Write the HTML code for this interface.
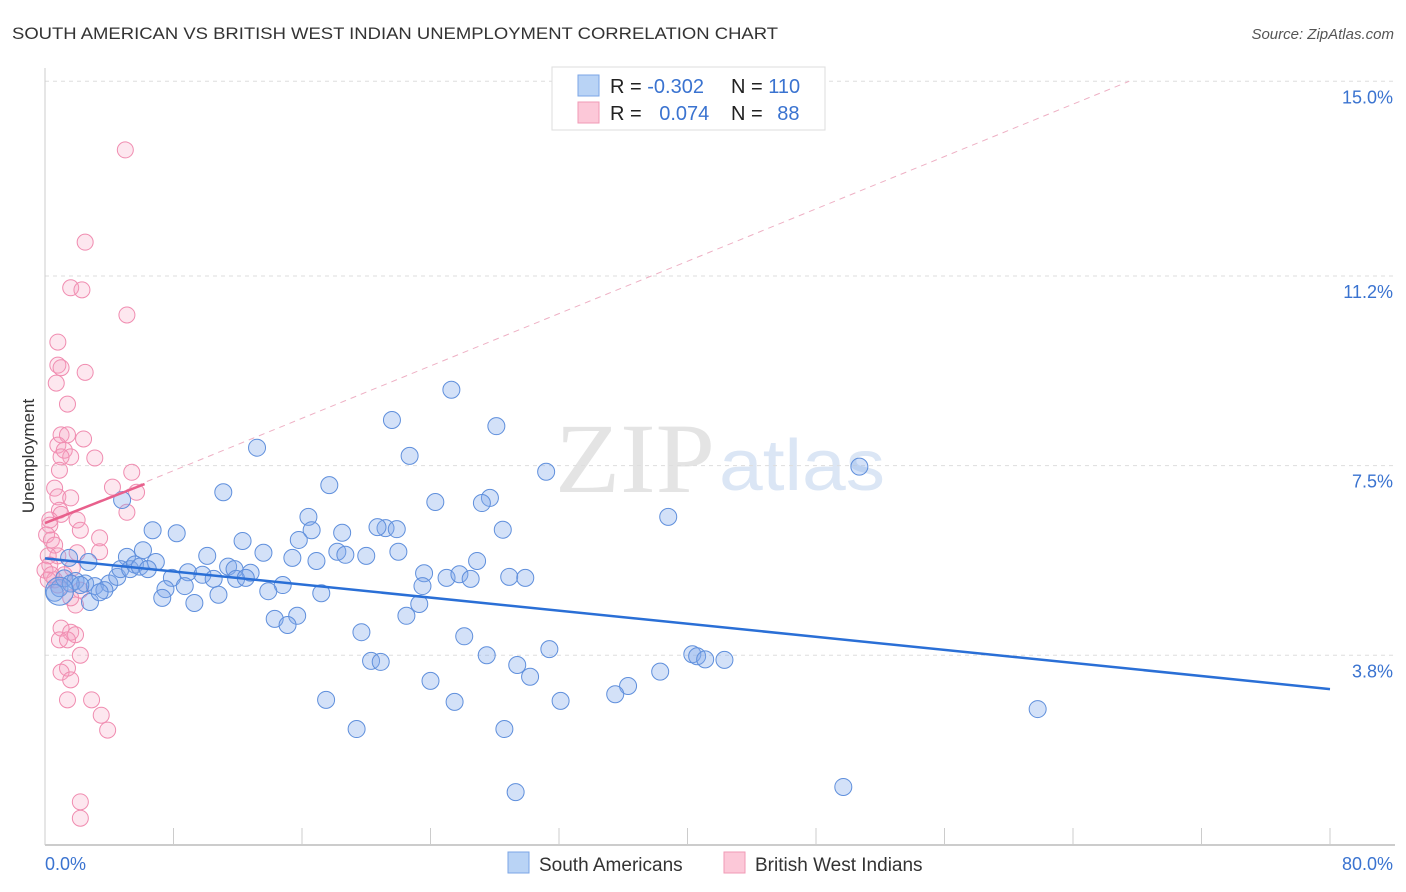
<!DOCTYPE html>
<html><head><meta charset="utf-8"><style>
body{margin:0;background:#fff;font-family:"Liberation Sans",sans-serif;}
svg{display:block}
</style></head><body>
<svg id="chart" width="1406" height="892">
<text x="12" y="39" font-size="17" fill="#333" textLength="766" lengthAdjust="spacingAndGlyphs">SOUTH AMERICAN VS BRITISH WEST INDIAN UNEMPLOYMENT CORRELATION CHART</text>
<text x="1394" y="39" font-size="15" fill="#555" font-style="italic" text-anchor="end">Source: ZipAtlas.com</text>
<text x="34" y="456" font-size="17" fill="#333" text-anchor="middle" transform="rotate(-90 34 456)">Unemployment</text>
<g>
<text x="635" y="492" font-size="100" fill="#e4e4e4" font-family="Liberation Serif,serif" text-anchor="middle" textLength="160" lengthAdjust="spacingAndGlyphs">ZIP</text>
<text x="802" y="490" font-size="72" fill="#dbe6f5" text-anchor="middle" textLength="166" lengthAdjust="spacingAndGlyphs">atlas</text>
</g>
<g id="grid"></g>
<g id="axes"></g>
<g id="pink"></g>
<g id="blue"></g>
<g id="trend"></g>
<g>
<rect x="552" y="67" width="273" height="63" fill="#fff" stroke="#ddd"/>
<rect x="578" y="75" width="21" height="21" fill="#b9d3f5" stroke="#7ba6e6"/>
<rect x="578" y="102" width="21" height="21" fill="#fcc8d8" stroke="#f09ab6"/>
<text x="610" y="93" font-size="20" fill="#222">R = <tspan fill="#3a73d0">-0.302</tspan></text>
<text x="731" y="93" font-size="20" fill="#222">N = <tspan fill="#3a73d0">110</tspan></text>
<text x="610" y="120" font-size="20" fill="#222">R = <tspan fill="#3a73d0" dx="12">0.074</tspan></text>
<text x="731" y="120" font-size="20" fill="#222">N = <tspan fill="#3a73d0" dx="9">88</tspan></text>
</g>
<g>
<rect x="508" y="852" width="21" height="21" fill="#b9d3f5" stroke="#7ba6e6"/>
<text x="539" y="871" font-size="19" fill="#333">South Americans</text>
<rect x="724" y="852" width="21" height="21" fill="#fcc8d8" stroke="#f09ab6"/>
<text x="755" y="871" font-size="19" fill="#333">British West Indians</text>
</g>
</svg>
<script>
const xTickLabels=["0.0%","80.0%"];
const yTicks=[3.8,7.5,11.2,15.0];
const yTickLabels=["3.8%","7.5%","11.2%","15.0%"];
const blueX=[13.2,21.6,25.3,28.1,22.7,31.2,50.7,11.1,17.7,24.3,27.7,27.2,38.8,16.4,6.7,8.2,16.6,21.2,21.9,20.7,18.5,28.5,12.3,15.8,6.1,5.1,6.9,10.1,13.6,15.4,16.9,18.2,18.7,20.0,22.0,26.9,11.4,11.8,12.8,8.9,7.9,9.8,10.5,11.9,12.5,14.8,8.7,7.5,13.9,17.2,23.6,25.0,25.8,26.5,28.9,29.9,23.5,23.3,7.3,9.3,10.8,22.5,15.7,14.3,15.1,19.7,26.1,27.5,31.4,20.3,20.9,29.4,30.2,38.3,40.3,40.6,41.1,42.3,36.3,35.5,24.0,25.5,17.5,32.1,61.8,19.4,28.6,29.3,49.7,0.9,0.6,1.2,1.9,2.5,3.1,4.0,3.7,1.6,2.2,2.8,3.4,4.5,4.7,5.3,5.6,5.9,6.4,2.7,4.8,1.5];
const blueY=[7.85,8.39,8.98,8.27,7.69,7.38,7.48,6.98,7.12,6.79,6.87,6.77,6.50,6.50,6.24,6.18,6.24,6.28,6.26,6.30,6.19,6.25,6.03,6.05,5.85,5.72,5.62,5.74,5.80,5.70,5.64,5.82,5.76,5.74,5.82,5.64,5.53,5.48,5.41,5.42,5.31,5.37,5.29,5.29,5.31,5.17,5.15,5.09,5.05,5.01,5.40,5.31,5.38,5.29,5.33,5.31,5.15,4.80,4.92,4.82,4.98,4.57,4.57,4.51,4.39,4.25,4.17,3.80,3.92,3.69,3.67,3.61,3.38,3.48,3.82,3.78,3.72,3.71,3.20,3.04,3.30,2.89,2.93,2.91,2.75,2.36,2.36,1.13,1.23,5.11,5.02,5.30,5.25,5.20,5.15,5.20,5.07,5.20,5.17,4.84,5.03,5.33,5.48,5.48,5.57,5.53,5.48,5.62,6.83,5.70];
const pinkX=[5.0,2.5,1.6,2.3,5.1,0.8,0.8,1.0,0.7,2.5,1.4,1.0,1.4,2.4,0.8,1.2,1.6,1.0,3.1,0.9,5.4,0.6,4.2,5.7,0.8,1.6,0.9,1.0,5.1,2.0,0.3,0.3,2.2,0.1,0.4,0.6,3.4,0.8,2.0,3.4,0.2,0.3,1.7,0.0,1.2,0.6,2.2,1.9,1.6,1.0,1.6,1.9,0.9,1.4,2.2,1.4,1.0,1.6,1.4,2.9,3.5,3.9,2.2,2.2,0.2,0.4,0.8];
const pinkY=[13.66,11.86,10.97,10.93,10.44,9.91,9.46,9.41,9.11,9.32,8.70,8.10,8.10,8.02,7.90,7.80,7.67,7.67,7.65,7.41,7.37,7.06,7.08,6.98,6.89,6.87,6.63,6.55,6.59,6.44,6.44,6.34,6.24,6.15,6.05,5.95,6.09,5.74,5.80,5.82,5.74,5.56,5.50,5.46,5.37,5.27,5.07,4.78,4.92,4.33,4.25,4.20,4.10,4.10,3.80,3.55,3.47,3.32,2.93,2.93,2.63,2.34,0.94,0.62,5.27,5.37,5.17];
const blueTrend=[0,5.69,80,3.14];
const pinkTrend=[0,6.38,6.2,7.14];
const pinkDash=[0,6.38,67.5,15.0];

const X0=45,X1=1330,Y0=850,PY=51.25;
const xs=v=>X0+v/80*(X1-X0);
const ys=v=>Y0-v*PY;
const NS="http://www.w3.org/2000/svg";
function mk(parent,tag,attrs){const e=document.createElementNS(NS,tag);for(const k in attrs)e.setAttribute(k,attrs[k]);document.getElementById(parent).appendChild(e);return e;}

yTicks.forEach((t,i)=>{
 const l=mk('grid','line',{x1:45,x2:1395,y1:ys(t),y2:ys(t),stroke:'#ddd','stroke-dasharray':'4,4'});
 
 
 const tx=mk('axes','text',{x:1393,y:ys(t)+22,'font-size':18,fill:'#3a73d0','text-anchor':'end'});
 tx.textContent=yTickLabels[i];
 
 
});
const ax=mk('axes','line',{x1:45,x2:1395,y1:845,y2:845,stroke:'#bbb','stroke-width':1.5});


const ay=mk('axes','line',{x1:45,x2:45,y1:68,y2:845,stroke:'#ccc'});


for(let i=0;i<=10;i++){
 const t=mk('axes','line',{x1:xs(i*8),x2:xs(i*8),y1:828,y2:845,stroke:'#ccc'});
 
 
}
const xl0=mk('axes','text',{x:45,y:870,'font-size':18,fill:'#3a73d0'});
xl0.textContent=xTickLabels[0];


const xl1=mk('axes','text',{x:1393,y:870,'font-size':18,fill:'#3a73d0','text-anchor':'end'});
xl1.textContent=xTickLabels[1];



pinkX.forEach((v,i)=>{
 const c=mk('pink','circle',{cx:xs(v),cy:ys(pinkY[i]),r:8,fill:'rgba(246,160,190,0.25)',stroke:'#f08cb0','stroke-width':1});
 
 
});
blueX.forEach((v,i)=>{
 const c=mk('blue','circle',{cx:xs(v),cy:ys(blueY[i]),r:8.5,fill:'rgba(130,170,235,0.35)',stroke:'#5f8fdc','stroke-width':1});
 
 
});
const big=mk('blue','circle',{cx:xs(0.9),cy:ys(5.05),r:14,fill:'rgba(130,170,235,0.35)',stroke:'#5f8fdc'});



const pd=mk('trend','line',{x1:xs(pinkDash[0]),y1:ys(pinkDash[1]),x2:xs(pinkDash[2]),y2:ys(pinkDash[3]),stroke:'#eeb0c4','stroke-dasharray':'6,5','stroke-width':1});


const bt=mk('trend','line',{x1:xs(blueTrend[0]),y1:ys(blueTrend[1]),x2:xs(blueTrend[2]),y2:ys(blueTrend[3]),stroke:'#2a6fd6','stroke-width':2.5});


const pt=mk('trend','line',{x1:xs(pinkTrend[0]),y1:ys(pinkTrend[1]),x2:xs(pinkTrend[2]),y2:ys(pinkTrend[3]),stroke:'#e8608c','stroke-width':2.5});


</script>
</body></html>
